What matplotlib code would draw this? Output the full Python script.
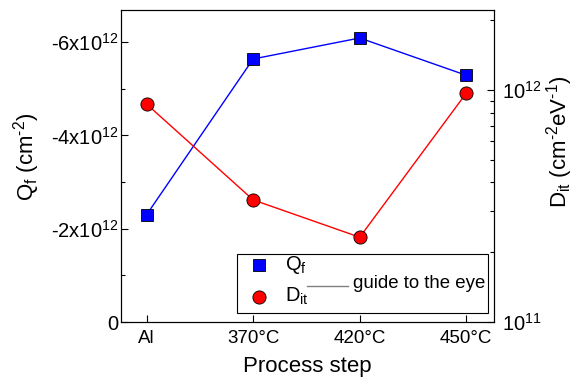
import numpy as np
import matplotlib
matplotlib.use("Agg")
import matplotlib.pyplot as plt
from matplotlib.patches import Rectangle
from matplotlib.lines import Line2D

plt.rcParams["font.family"] = ["Liberation Sans", "DejaVu Sans"]
plt.rcParams["mathtext.fontset"] = "custom"
plt.rcParams["mathtext.rm"] = "Liberation Sans"
plt.rcParams["mathtext.it"] = "Liberation Sans"
plt.rcParams["axes.unicode_minus"] = False

# data
steps = ["Al", "370°C", "420°C", "450°C"]
q_f = [-2.3e12, -5.64e12, -6.09e12, -5.29e12]      # cm^-2
d_it = [8.7e11, 3.36e11, 2.32e11, 9.7e11]         # cm^-2 eV^-1
q_ticks = [0, -2e12, -4e12, -6e12]
q_tick_labels = ["0", r"-2x10$^{12}$", r"-4x10$^{12}$", r"-6x10$^{12}$"]

x = np.arange(len(steps))

fig = plt.figure(figsize=(5.74, 3.81), dpi=100)
ax = fig.add_axes([121 / 574, 1 - 322 / 381, 373 / 574, 312 / 381])
ax2 = ax.twinx()

ax.plot(x, q_f, color="#0000ff", lw=1.0, marker="s", ms=8.5,
        mfc="#0000ff", mec="black", mew=0.6, zorder=3)
ax2.plot(x, d_it, color="#ff0000", lw=1.0, marker="o", ms=9.5,
         mfc="#ff0000", mec="black", mew=0.6, zorder=3)

ax.set_xlim(-0.24, 3.26)
ax.set_ylim(0, -6.69e12)
ax.set_yticks(q_ticks)
ax.set_yticklabels(q_tick_labels)
ax.set_yticks([-1e12, -3e12, -5e12], minor=True)
ax.set_xticks(x)
ax.set_xticklabels(steps)

ax2.set_yscale("log")
ax2.set_ylim(1e11, 10 ** 12.345)

for a in (ax, ax2):
    a.tick_params(direction="in", which="major", length=5, width=0.8, labelsize=14.5)
    a.tick_params(direction="in", which="minor", length=3, width=0.8)
    for s in a.spines.values():
        s.set_linewidth(0.8)
ax.tick_params(axis="x", pad=6, labelsize=13.5)
ax2.tick_params(axis="y", pad=6)
ax.tick_params(axis="y", pad=2)

ax.set_xlabel("Process step", fontsize=16, labelpad=6)
ax.set_ylabel("Q$_f$ (cm$^{\u20102}$)", fontsize=16)
ax.yaxis.set_label_coords(-0.212, 0.53)
ax2.set_ylabel("D$_{it}$ (cm$^{\u20102}$eV$^{\u20101}$)", fontsize=16)
ax2.yaxis.set_label_coords(1.135, 0.577)

# hand-made legend box
ax2.add_patch(Rectangle((0.311, 0.029), 0.673, 0.189, transform=ax2.transAxes,
                        fill=True, fc="white", ec="black", lw=0.8, zorder=5))
ax2.add_line(Line2D([0.371], [0.182], transform=ax2.transAxes, marker="s", ms=8.5,
                    mfc="#0000ff", mec="black", mew=0.6, ls="none", zorder=6))
ax2.add_line(Line2D([0.371], [0.081], transform=ax2.transAxes, marker="o", ms=9.5,
                    mfc="#ff0000", mec="black", mew=0.6, ls="none", zorder=6))
ax2.text(0.44, 0.182, r"Q$_f$", transform=ax2.transAxes, fontsize=14.5,
         va="center", ha="left", zorder=6)
ax2.text(0.44, 0.081, r"D$_{it}$", transform=ax2.transAxes, fontsize=14.5,
         va="center", ha="left", zorder=6)
ax2.add_line(Line2D([0.499, 0.609], [0.115, 0.115], transform=ax2.transAxes,
                    color="gray", lw=1.0, zorder=6))
ax2.text(0.623, 0.125, "guide to the eye", transform=ax2.transAxes, fontsize=13.4,
         va="center", ha="left", zorder=6)

fig.savefig("out.png", dpi=100)
